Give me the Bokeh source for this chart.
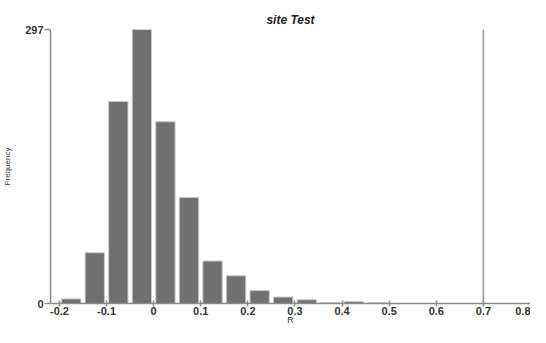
from bokeh.plotting import figure
from bokeh.models import Range1d, FixedTicker, Title
from bokeh.embed import file_html
from bokeh.resources import INLINE

# Data
bin_left = [-0.20, -0.15, -0.10, -0.05, 0.00, 0.05, 0.10, 0.15, 0.20, 0.25, 0.30, 0.35, 0.40, 0.45]
counts = [5, 55, 219, 297, 197, 115, 46, 30, 14, 7, 4, 1, 2, 1]
bin_width = 0.05
x_ticks = [-0.2, -0.1, 0.0, 0.1, 0.2, 0.3, 0.4, 0.5, 0.6, 0.7, 0.8]
x_tick_labels = {-0.2: "-0.2", -0.1: "-0.1", 0.0: "0", 0.1: "0.1", 0.2: "0.2", 0.3: "0.3",
                 0.4: "0.4", 0.5: "0.5", 0.6: "0.6", 0.7: "0.7", 0.8: "0.8"}
y_ticks = [0, 297]
observed_R = 0.7
title_text = "site Test"
x_label = "R"
y_label = "Frequency"

centers = [b + bin_width / 2 for b in bin_left]

p = figure(width=530, height=327, output_backend="svg", toolbar_location=None,
           x_range=Range1d(-0.219, 0.8), y_range=Range1d(0, max(y_ticks)),
           min_border_left=49, min_border_right=0, min_border_top=29, min_border_bottom=0)

p.title = Title(text=title_text, align="center", offset=-18,
                text_font="Liberation Sans", text_font_size="12px",
                text_font_style="bold italic", text_color="#222222", standoff=6)

p.vbar(x=centers, width=bin_width * 0.82, top=counts, bottom=0,
       fill_color="#707070", line_color="#c8c8c8", line_width=1)

p.segment(x0=[observed_R], y0=[0], x1=[observed_R], y1=[max(y_ticks)],
          line_color="#9a9a9a", line_width=1.5)

p.outline_line_color = None
p.xgrid.visible = False
p.ygrid.visible = False
p.background_fill_color = "white"
p.border_fill_color = "white"

xa = p.xaxis[0]
xa.ticker = FixedTicker(ticks=x_ticks)
xa.major_label_overrides = x_tick_labels
xa.minor_tick_line_color = None
xa.major_tick_in = 3
xa.major_tick_out = 3
xa.major_label_standoff = 0
xa.axis_line_color = "#8a8a8a"
xa.axis_line_width = 1.5
xa.major_tick_line_color = "#8a8a8a"
xa.major_tick_line_width = 1.5
xa.major_label_text_font = "Liberation Sans"
xa.major_label_text_font_size = "11px"
xa.major_label_text_font_style = "bold"
xa.major_label_text_color = "#333333"
xa.axis_label = x_label
xa.axis_label_standoff = -3
xa.axis_label_text_font = "Liberation Sans"
xa.axis_label_text_font_size = "9px"
xa.axis_label_text_font_style = "normal"
xa.axis_label_text_color = "#333333"

ya = p.yaxis[0]
ya.ticker = FixedTicker(ticks=y_ticks)
ya.minor_tick_line_color = None
ya.major_tick_in = 0
ya.major_tick_out = 6
ya.major_label_standoff = 1
ya.axis_line_color = "#8a8a8a"
ya.axis_line_width = 1.5
ya.major_tick_line_color = "#8a8a8a"
ya.major_tick_line_width = 1.5
ya.major_label_text_font = "Liberation Sans"
ya.major_label_text_font_size = "11px"
ya.major_label_text_font_style = "bold"
ya.major_label_text_color = "#333333"
ya.axis_label = y_label
ya.axis_label_standoff = 10
ya.axis_label_text_font = "Liberation Sans"
ya.axis_label_text_font_size = "8px"
ya.axis_label_text_font_style = "normal"
ya.axis_label_text_color = "#333333"

open("out.html", "w").write(file_html(p, INLINE))
